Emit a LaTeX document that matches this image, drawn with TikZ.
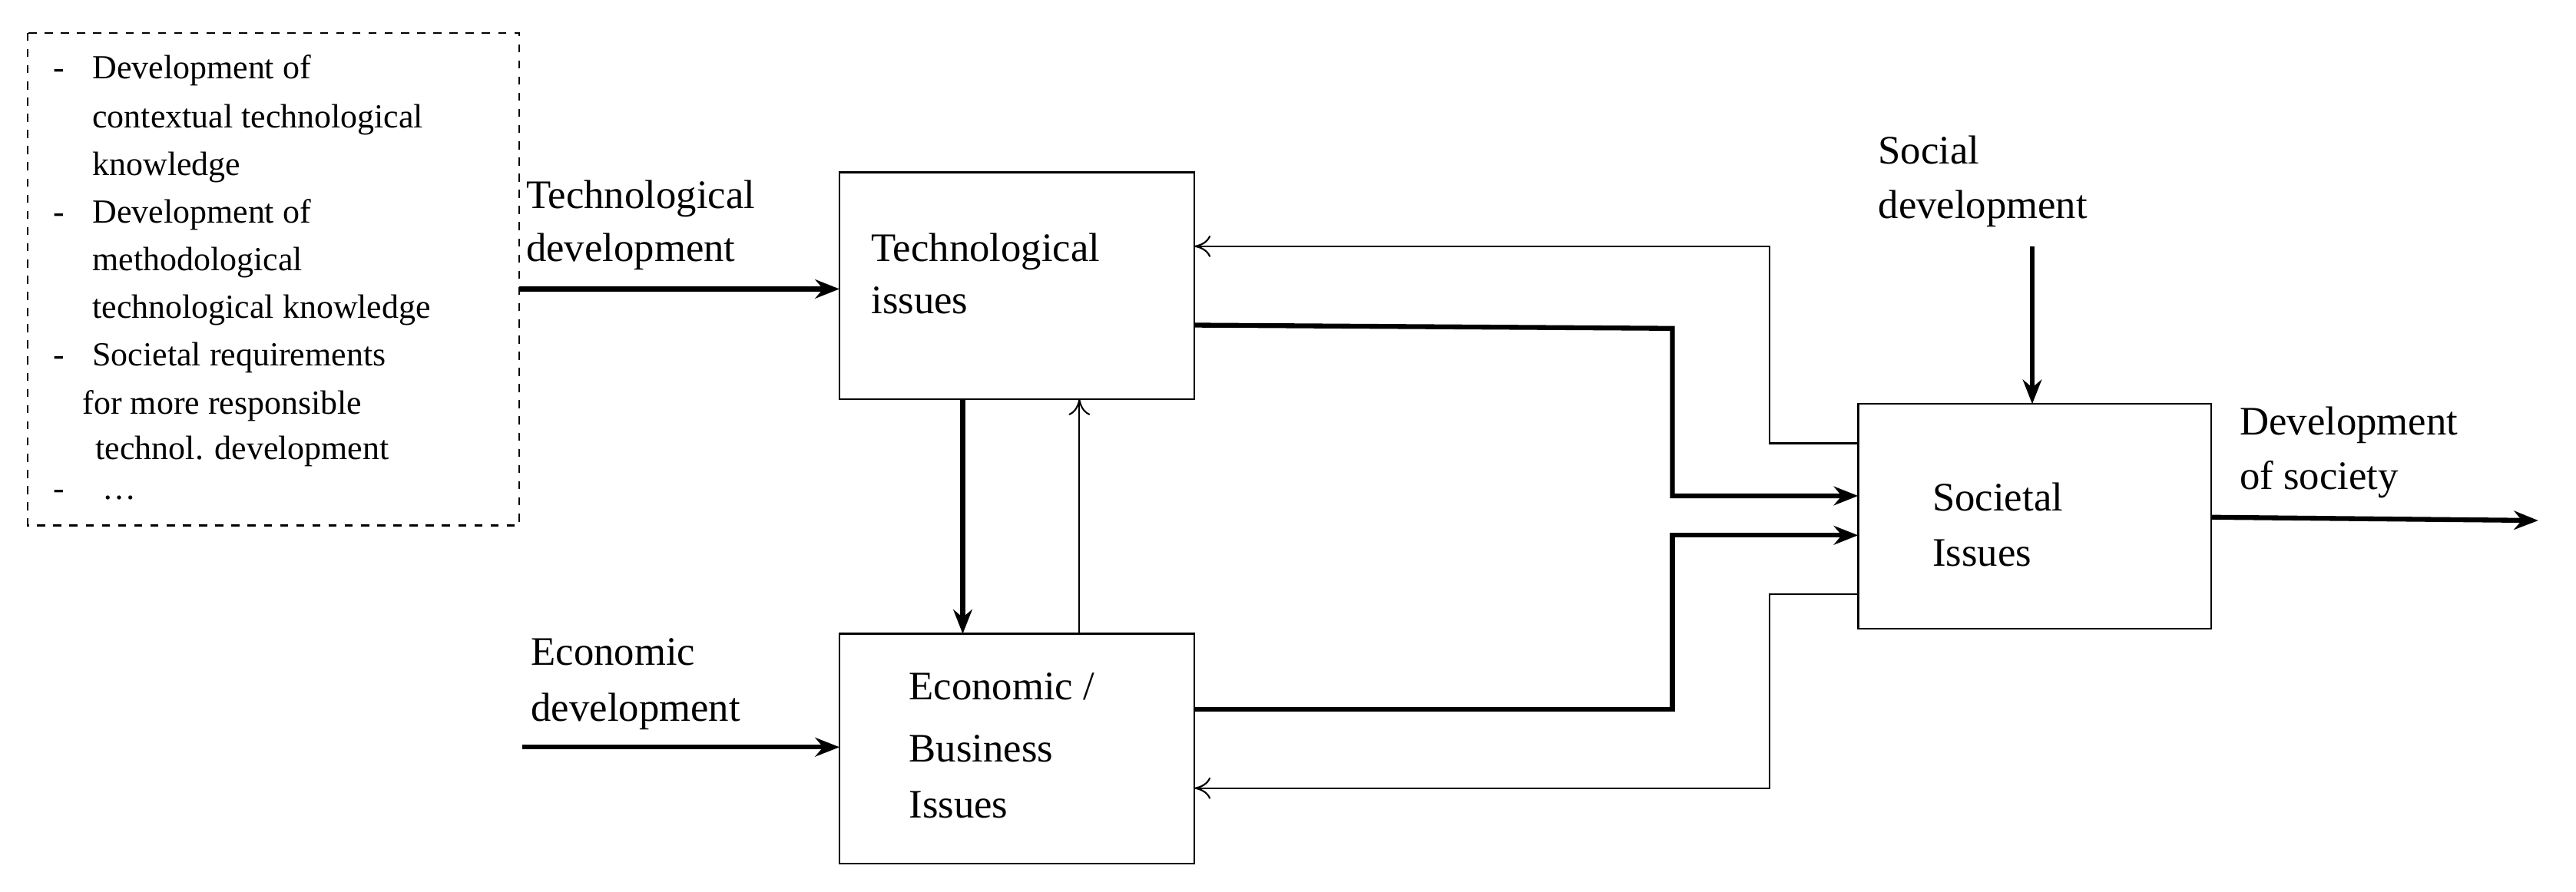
\documentclass[tikz,border=0pt]{standalone}
\usepackage{fontspec}
\setmainfont{Liberation Serif}
\usetikzlibrary{arrows.meta}
\begin{document}
\begin{tikzpicture}[x=0.02139cm,y=-0.02139cm,
  box/.style={draw,line width=0.7pt},
  thick arr/.style={line width=1.8pt,-{Stealth[length=9pt,width=7pt]}},
  thin arr/.style={line width=0.6pt,-{To[length=6pt,width=8pt]}},
  lbl/.style={font=\fontsize{15}{19}\selectfont,anchor=base west,inner sep=0},
  sm/.style={font=\fontsize{12.5}{15}\selectfont,anchor=base west,inner sep=0}]
\useasboundingbox (0,0) rectangle (1568,543);
\draw[dashed,line width=0.6pt] (17,20) rectangle (316,320);
\node[sm] (d1) at (32,48) {-};
\node[sm] (t1) at (56,48) {Development of};
\node[sm] (t2) at (56,78) {contextual technological};
\node[sm] (t3) at (56,107) {knowledge};
\node[sm] (d4) at (32,136) {-};
\node[sm] (t4) at (56,136) {Development of};
\node[sm] (t5) at (56,165) {methodological};
\node[sm] (t6) at (56,194) {technological knowledge};
\node[sm] (d7) at (32,223) {-};
\node[sm] (t7) at (56,223) {Societal requirements};
\node[sm] (t8) at (50,252) {for more responsible};
\node[sm] (t9) at (58,280) {technol. development};
\node[sm] (d10) at (32,304) {-};
\node[sm] (t10) at (62,304) {\dots};
\draw[box] (511,105) rectangle (727,243);
\draw[box] (511,386) rectangle (727,526);
\draw[box] (1131,246) rectangle (1346,383);
\node[lbl] (tl1) at (530,159) {Technological};
\node[lbl] (tl2) at (530,191) {issues};
\node[lbl] (el1) at (553,426) {Economic /};
\node[lbl] (el2) at (553,464) {Business};
\node[lbl] (el3) at (553,498) {Issues};
\node[lbl] (sl1) at (1176,311) {Societal};
\node[lbl] (sl2) at (1176,345) {Issues};
\node[lbl] (a1) at (320,127) {Technological};
\node[lbl] (a2) at (320,159) {development};
\node[lbl] (b1) at (323,405) {Economic};
\node[lbl] (b2) at (323,439) {development};
\node[lbl] (c1) at (1143,100) {Social};
\node[lbl] (c2) at (1143,133) {development};
\node[lbl] (e1) at (1363,265) {Development};
\node[lbl] (e2) at (1363,298) {of society};
\coordinate (p1) at (316,176); \coordinate (p2) at (511,176);
\coordinate (q1) at (318,455); \coordinate (q2) at (511,455);
\draw[thick arr] (p1) -- (p2);
\draw[thick arr] (q1) -- (q2);
\coordinate (r1) at (586,243); \coordinate (r2) at (586,386);
\draw[thick arr] (r1) -- (r2);
\coordinate (s1) at (657,386); \coordinate (s2) at (657,243);
\draw[thin arr] (s1) -- (s2);
\coordinate (u1) at (1131,270); \coordinate (u2) at (727,150);
\draw[thin arr] (u1) -- (1077,270) -- (1077,150) -- (u2);
\coordinate (v1) at (727,198); \coordinate (v2) at (1131,302);
\draw[thick arr] (v1) -- (1018,200) -- (1018,302) -- (v2);
\coordinate (w1) at (727,432); \coordinate (w2) at (1131,326);
\draw[thick arr] (w1) -- (1018,432) -- (1018,326) -- (w2);
\coordinate (x1) at (1131,362); \coordinate (x2) at (727,480);
\draw[thin arr] (x1) -- (1077,362) -- (1077,480) -- (x2);
\coordinate (y1) at (1237,150); \coordinate (y2) at (1237,246);
\draw[thick arr] (y1) -- (y2);
\coordinate (z1) at (1346,315); \coordinate (z2) at (1545,317);
\draw[thick arr] (z1) -- (z2);
\end{tikzpicture}
\end{document}
